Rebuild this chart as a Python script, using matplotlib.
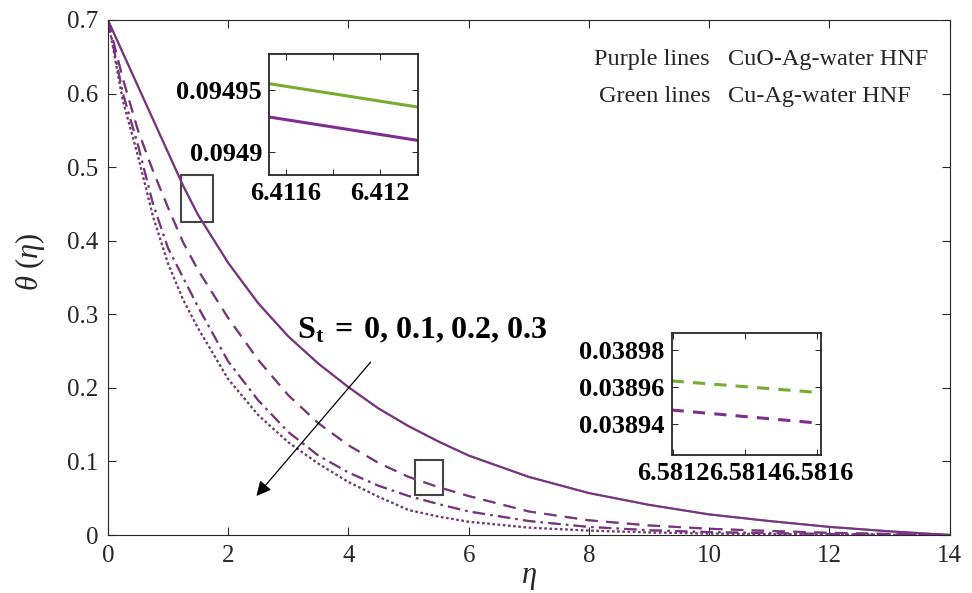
import matplotlib
matplotlib.use("Agg")
import matplotlib.pyplot as plt
from matplotlib.patches import Rectangle

plt.rcParams['font.family'] = ['Liberation Serif', 'DejaVu Serif']
plt.rcParams['mathtext.fontset'] = 'custom'
plt.rcParams['mathtext.rm'] = 'Liberation Serif'
plt.rcParams['mathtext.it'] = 'Liberation Serif:italic'
plt.rcParams['mathtext.bf'] = 'Liberation Serif:bold'

# ---- data ----
eta = [0, 0.25, 0.5, 0.75, 1, 1.25, 1.5, 2, 2.5, 3, 3.5, 4, 4.5, 5, 5.5, 6,
       7, 8, 9, 10, 11, 12, 13, 14]
theta_st0 = [0.70, 0.655, 0.61, 0.565, 0.52, 0.475, 0.435, 0.37, 0.315, 0.27, 0.233, 0.201,
             0.172, 0.148, 0.127, 0.108, 0.079, 0.057, 0.041, 0.028, 0.019, 0.011, 0.005, 0.0]
theta_st1 = [0.70, 0.62, 0.55, 0.495, 0.445, 0.398, 0.36, 0.295, 0.238, 0.19, 0.152, 0.122,
             0.098, 0.079, 0.065, 0.053, 0.032, 0.020, 0.013, 0.0085, 0.0055, 0.003, 0.0015, 0.0]
theta_st2 = [0.70, 0.60, 0.53, 0.45, 0.39, 0.35, 0.31, 0.236, 0.183, 0.14, 0.108, 0.085,
             0.067, 0.053, 0.042, 0.032, 0.019, 0.011, 0.0065, 0.004, 0.0025, 0.0015, 0.0007, 0.0]
theta_st3 = [0.70, 0.59, 0.515, 0.433, 0.369, 0.32, 0.281, 0.212, 0.163, 0.126, 0.097, 0.072,
             0.052, 0.034, 0.025, 0.018, 0.010, 0.006, 0.0035, 0.002, 0.0012, 0.0008, 0.0004, 0.0]
purple_series = [theta_st0, theta_st1, theta_st2, theta_st3]
green_series = [theta_st0, theta_st1, theta_st2, theta_st3]

xticks = [0, 2, 4, 6, 8, 10, 12, 14]
yticks = [0, 0.1, 0.2, 0.3, 0.4, 0.5, 0.6, 0.7]
ytick_labels = ['0', '0.1', '0.2', '0.3', '0.4', '0.5', '0.6', '0.7']

inset1_x = [6.41153, 6.41216]
inset1_purple = [0.094928, 0.094909]
inset1_green = [0.094955, 0.094936]
inset1_xticks = [6.4116, 6.4118, 6.4120]
inset1_xlabels = ['6.4116', '', '6.412']
inset1_yticks = [0.0949, 0.09495]
inset1_ylabels = ['0.0949', '0.09495']

inset2_x = [6.581196, 6.58161]
inset2_purple = [0.0389474, 0.0389402]
inset2_green = [0.0389632, 0.0389568]
inset2_xticks = [6.5812, 6.5814, 6.5816]
inset2_xlabels = ['6.5812', '6.5814', '6.5816']
inset2_yticks = [0.03894, 0.03896, 0.03898]
inset2_ylabels = ['0.03894', '0.03896', '0.03898']

PURPLE = '#7E2F8E'
GREEN = '#77AC30'
FRAME = '#262626'
styles = ['-', (0, (6, 4)), (0, (6, 2.5, 1.2, 2.5)), (0, (1.2, 1.3))]

fig = plt.figure(figsize=(9.72, 5.93), dpi=100)
ax = fig.add_axes([0.111, 0.0978, 0.866, 0.8685])

for s, ls in zip(green_series, styles):
    ax.plot(eta, s, color=GREEN, lw=1.5, ls=ls)
for s, ls in zip(purple_series, styles):
    ax.plot(eta, s, color=PURPLE, lw=1.5, ls=ls)

ax.set_xlim(0, 14)
ax.set_ylim(0, 0.7)
ax.set_xticks(xticks)
ax.set_xticklabels([str(v) for v in xticks])
ax.set_yticks(yticks)
ax.set_yticklabels(ytick_labels)
ax.tick_params(direction='in', top=True, right=True, length=6, width=0.8,
               labelsize=18, colors=FRAME, pad=7)
for sp in ax.spines.values():
    sp.set_color(FRAME)
    sp.set_linewidth(0.8)

ax.set_xlabel(r'$\eta$', fontsize=22, labelpad=-3, color=FRAME)
ax.set_ylabel(r'$\theta\ (\eta)$', fontsize=22, labelpad=6, color=FRAME)
ax.yaxis.set_label_coords(-0.072, 0.53)

# zoom boxes
ax.add_patch(Rectangle((1.22, 0.4256), 0.53, 0.0634, fill=False, ec='#444444', lw=1.5))
ax.add_patch(Rectangle((5.10, 0.054), 0.48, 0.0476, fill=False, ec='#444444', lw=1.5))

# arrow and annotation
ax.annotate('', xy=(2.47, 0.053), xytext=(4.37, 0.235),
            arrowprops=dict(arrowstyle='-|>', color='black', lw=0.9,
                            mutation_scale=22, shrinkA=0, shrinkB=0))
ax.text(3.15, 0.267, r'$\mathbf{S_t\;=\;0{,}\ 0.1{,}\ 0.2{,}\ 0.3}$', fontsize=23,
        color='black', ha='left', va='baseline')

# legend-like text
fig.text(0.7305, 0.899, 'Purple lines', ha='right', va='center', fontsize=17.5, color=FRAME)
fig.text(0.749, 0.899, 'CuO-Ag-water HNF', ha='left', va='center', fontsize=17.5, color=FRAME)
fig.text(0.7305, 0.838, 'Green lines', ha='right', va='center', fontsize=17.5, color=FRAME)
fig.text(0.749, 0.838, 'Cu-Ag-water HNF', ha='left', va='center', fontsize=17.5, color=FRAME)


def style_inset(a):
    for sp in a.spines.values():
        sp.set_color(FRAME)
        sp.set_linewidth(1.3)
    a.tick_params(direction='in', top=True, right=True, length=4, width=0.6,
                  labelsize=19, colors='black', pad=5)
    for lab in a.get_xticklabels() + a.get_yticklabels():
        lab.set_fontweight('bold')


# inset 1
a1 = fig.add_axes([0.2767, 0.7049, 0.1533, 0.204])
a1.plot(inset1_x, inset1_green, color=GREEN, lw=2.2)
a1.plot(inset1_x, inset1_purple, color=PURPLE, lw=2.2)
a1.set_xlim(inset1_x[0], inset1_x[1])
a1.set_ylim(0.094881, 0.094979)
a1.set_xticks(inset1_xticks)
a1.set_xticklabels(inset1_xlabels)
a1.set_yticks(inset1_yticks)
a1.set_yticklabels(inset1_ylabels)
style_inset(a1)

# inset 2
a2 = fig.add_axes([0.691, 0.2327, 0.1533, 0.2052])
a2.plot(inset2_x, inset2_green, color=GREEN, lw=2.2, ls=(0, (4, 3)))
a2.plot(inset2_x, inset2_purple, color=PURPLE, lw=2.2, ls=(0, (4, 3)))
a2.set_xlim(inset2_x[0], inset2_x[1])
a2.set_ylim(0.038923, 0.038989)
a2.set_xticks(inset2_xticks)
a2.set_xticklabels(inset2_xlabels)
a2.set_yticks(inset2_yticks)
a2.set_yticklabels(inset2_ylabels)
style_inset(a2)

fig.savefig('out.png', dpi=100)
